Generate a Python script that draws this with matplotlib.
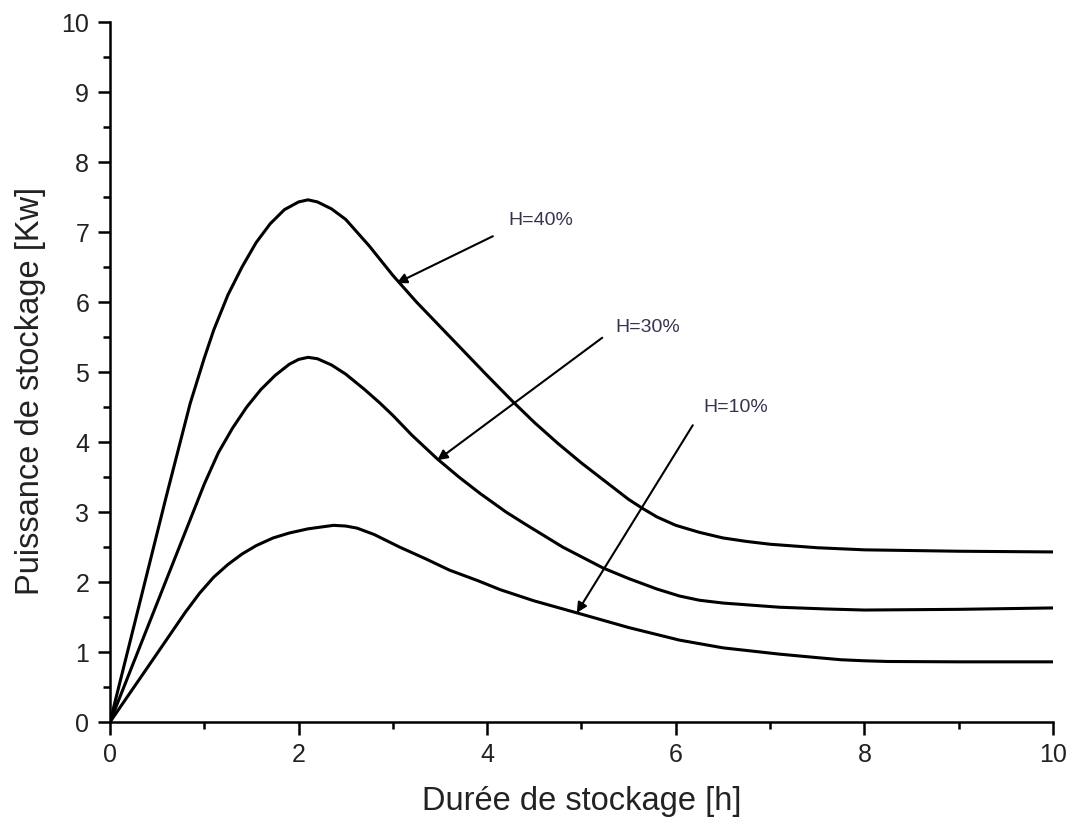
import matplotlib
matplotlib.use("Agg")
import matplotlib.pyplot as plt
from matplotlib.ticker import MultipleLocator

plt.rcParams['font.family'] = ['Liberation Sans', 'DejaVu Sans']

# Durée de stockage [h] and Puissance de stockage [Kw]
x_h40 = [0, 0.3, 0.6, 0.85, 1.0, 1.1, 1.25, 1.4, 1.55, 1.7, 1.85, 2.0, 2.1, 2.2, 2.35, 2.5, 2.75,
         3.0, 3.25, 3.5, 3.75, 4.0, 4.27, 4.5, 4.75, 5.0, 5.25, 5.5, 5.65, 5.8, 6.0, 6.25, 6.5,
         6.75, 7.0, 7.5, 8.0, 9.0, 10.0]
y_h40 = [0, 1.62, 3.24, 4.55, 5.2, 5.6, 6.1, 6.5, 6.85, 7.12, 7.32, 7.43, 7.46, 7.43, 7.33, 7.18, 6.8,
         6.38, 6.0, 5.65, 5.3, 4.95, 4.58, 4.28, 3.98, 3.7, 3.44, 3.18, 3.05, 2.93, 2.81, 2.71, 2.63,
         2.58, 2.54, 2.49, 2.46, 2.44, 2.43]

x_h30 = [0, 0.5, 1.0, 1.15, 1.3, 1.45, 1.6, 1.75, 1.9, 2.0, 2.1, 2.2, 2.35, 2.5, 2.7, 2.86, 3.0,
         3.2, 3.47, 3.7, 3.92, 4.2, 4.4, 4.8, 5.23, 5.5, 5.8, 6.04, 6.25, 6.5, 7.1, 7.6, 8.0, 9.0, 10.0]
y_h30 = [0, 1.7, 3.4, 3.85, 4.2, 4.5, 4.75, 4.95, 5.11, 5.18, 5.21, 5.19, 5.1, 4.97, 4.75, 4.56, 4.38,
         4.1, 3.76, 3.5, 3.27, 3.0, 2.83, 2.5, 2.2, 2.05, 1.9, 1.8, 1.74, 1.7, 1.64, 1.615, 1.6, 1.61, 1.63]

x_h10 = [0, 0.5, 0.8, 0.95, 1.1, 1.25, 1.4, 1.55, 1.73, 1.9, 2.1, 2.37, 2.5, 2.62, 2.8, 3.07, 3.35,
         3.6, 3.9, 4.14, 4.5, 4.95, 5.5, 6.04, 6.5, 7.1, 7.5, 7.75, 8.0, 8.25, 9.0, 10.0]
y_h10 = [0, 0.98, 1.57, 1.84, 2.07, 2.25, 2.4, 2.52, 2.63, 2.7, 2.76, 2.81, 2.8, 2.77, 2.68, 2.5, 2.33,
         2.17, 2.02, 1.89, 1.73, 1.56, 1.35, 1.17, 1.06, 0.97, 0.92, 0.89, 0.875, 0.865, 0.86, 0.86]

labels = ['H=40%', 'H=30%', 'H=10%']
text_pos = [(4.22, 7.17), (5.36, 5.63), (6.29, 4.49)]
arrow_start = [(4.06, 6.94), (5.22, 5.49), (6.18, 4.24)]
arrow_tip = [(3.04, 6.27), (3.47, 3.74), (4.95, 1.56)]

fig = plt.figure(figsize=(10.71, 8.25), dpi=100)
ax = fig.add_axes([0.1027, 0.1248, 0.8805, 0.8485])

for xs, ys in [(x_h40, y_h40), (x_h30, y_h30), (x_h10, y_h10)]:
    ax.plot(xs, ys, color='black', lw=2.2, solid_joinstyle='round', solid_capstyle='round')

for lab, tp, s, t in zip(labels, text_pos, arrow_start, arrow_tip):
    ax.annotate('', xy=t, xytext=s,
                arrowprops=dict(arrowstyle='-|>', color='black', lw=1.5,
                                mutation_scale=15, shrinkA=0, shrinkB=0))
    ax.text(tp[0], tp[1], lab, fontsize=14, color='#3a3050', ha='left', va='center')

ax.set_xlim(0, 10)
ax.set_ylim(0, 10)
ax.xaxis.set_major_locator(MultipleLocator(2))
ax.xaxis.set_minor_locator(MultipleLocator(1))
ax.yaxis.set_major_locator(MultipleLocator(1))
ax.yaxis.set_minor_locator(MultipleLocator(0.5))

for side in ['top', 'right']:
    ax.spines[side].set_visible(False)
for side in ['left', 'bottom']:
    ax.spines[side].set_linewidth(1.8)

ax.tick_params(which='major', direction='out', length=9, width=1.8, labelsize=18,
               labelcolor='#222222', pad=6)
ax.tick_params(which='minor', direction='out', length=5, width=1.8)

ax.set_xlabel('Durée de stockage [h]', fontsize=23.5, color='#222222', labelpad=14)
ax.set_ylabel('Puissance de stockage [Kw]', fontsize=23.5, color='#222222')
ax.yaxis.set_label_coords(-0.068, 0.473)

fig.savefig('out.png', dpi=100, facecolor='white')
